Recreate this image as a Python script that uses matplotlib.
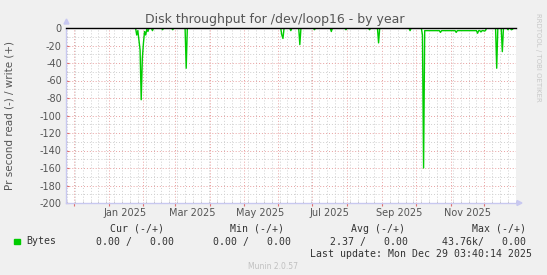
import numpy as np
import pandas as pd
import matplotlib
matplotlib.use("Agg")
import matplotlib.pyplot as plt
import matplotlib.dates as mdates

# -----------------------------
# Data (bytes per second, read = negative)
# -----------------------------
start = pd.Timestamp("2024-11-24 03:40")
end = pd.Timestamp("2025-12-29 03:40")

dip_dates = ["2025-01-26", "2025-01-27", "2025-01-28", "2025-01-29", "2025-01-30",
             "2025-01-31", "2025-02-01", "2025-02-02", "2025-02-03", "2025-02-04",
             "2025-02-05", "2025-02-09", "2025-02-18", "2025-02-27", "2025-03-11",
             "2025-06-04", "2025-06-05", "2025-06-12", "2025-06-20", "2025-07-03",
             "2025-07-18", "2025-07-31", "2025-08-21", "2025-08-29", "2025-09-26",
             "2025-10-07", "2025-10-08", "2025-10-23", "2025-11-06", "2025-11-25",
             "2025-11-28", "2025-12-01", "2025-12-12", "2025-12-17", "2025-12-22",
             "2025-12-25", "2025-12-26"]
dip_values = [-8, -3, -14, -25, -82,
              -35, -17, -4, -8, -1,
              -4, -3, -2, -2, -46,
              -8, -12, -3, -19, -2,
              -4, -2, -2, -17, -3,
              -8, -160, -5, -5, -6,
              -4.5, -3.5, -46, -27, -2,
              -2, -1.5]

plateau_start = "2025-10-09"
plateau_end = "2025-12-02"
plateau_level = -3.0

y_ticks = list(range(-200, 1, 20))
month_labels = ["Jan 2025", "Mar 2025", "May 2025", "Jul 2025", "Sep 2025", "Nov 2025"]
month_label_dates = ["2025-01-16", "2025-03-16", "2025-05-16", "2025-07-16",
                     "2025-09-16", "2025-11-16"]

# daily series, zero where nothing was read
days = pd.date_range("2024-11-24", "2025-12-29", freq="D")
s = pd.Series(0.0, index=days)
s[plateau_start:plateau_end] = plateau_level
s[pd.to_datetime(dip_dates)] = dip_values

# -----------------------------
# Figure
# -----------------------------
W, H = 547, 275
fig = plt.figure(figsize=(W / 100, H / 100), dpi=100, facecolor="#F0F0F0")

def fx(px):
    return px / W

def fy(py):
    return 1 - py / H

ax = fig.add_axes([fx(66), fy(203), 450 / W, 175 / H])
ax.set_facecolor("white")

ax.plot(s.index, s.values, color="#00CC00", lw=1.0, zorder=3)
ax.axhline(0, color="black", lw=1.0, zorder=4, clip_on=False)

ax.set_xlim(start, end)
ax.set_ylim(-200, 0)

# grid
ax.xaxis.set_major_locator(mdates.MonthLocator())
ax.xaxis.set_minor_locator(mdates.WeekdayLocator(byweekday=mdates.MO))
ax.xaxis.set_major_formatter(plt.NullFormatter())
ax.set_yticks(y_ticks)
ax.set_yticks(range(-190, 0, 20), minor=True)
ax.set_yticklabels([str(v) for v in y_ticks])

ax.grid(which="minor", color="#CFCFCF", lw=0.7, linestyle=(0, (1, 2)), zorder=1)
ax.grid(which="major", color="#E8A0A0", lw=0.7, linestyle=(0, (1, 2)), zorder=2)

ax.tick_params(axis="x", which="major", length=2.5, color="#E07070", direction="out")
ax.tick_params(axis="x", which="minor", length=1.5, color="#C0C0C0", direction="in")
ax.tick_params(axis="y", which="major", length=2, color="#E07070", direction="in",
               labelsize=7, labelcolor="#555555", pad=3)
ax.tick_params(axis="y", which="minor", length=1.5, color="#C0C0C0", direction="in")

for side in ["top", "right"]:
    ax.spines[side].set_visible(False)
for side in ["left", "bottom"]:
    ax.spines[side].set_color("#C8C8F0")
    ax.spines[side].set_linewidth(1.0)

# axis arrows
fig.patches.append(matplotlib.patches.Polygon(
    [[fx(64), fy(24)], [fx(69), fy(24)], [fx(66.5), fy(19)]],
    closed=True, color="#C8C8F0", transform=fig.transFigure))
fig.patches.append(matplotlib.patches.Polygon(
    [[fx(517), fy(200.5)], [fx(517), fy(205.5)], [fx(522), fy(203)]],
    closed=True, color="#C8C8F0", transform=fig.transFigure))

for lab, d in zip(month_labels, month_label_dates):
    ax.text(pd.Timestamp(d), -0.057, lab, transform=ax.get_xaxis_transform(),
            ha="center", va="center", fontsize=7, color="#555555")

# titles
fig.text(fx(275), fy(19), "Disk throughput for /dev/loop16 - by year",
         ha="center", va="center", fontsize=9, color="#555555")
fig.text(fx(10), fy(115), "Pr second read (-) / write (+)", rotation=90,
         ha="center", va="center", fontsize=7.5, color="#555555")
fig.text(fx(538), fy(57), "RRDTOOL / TOBI OETIKER", rotation=270,
         ha="center", va="center", fontsize=5, color="#C8C8C8")

# legend block
mono = dict(family="DejaVu Sans Mono", fontsize=7.1, color="#333333", va="center")
fig.text(fx(164), fy(228.6), "Cur (-/+)", ha="right", **mono)
fig.text(fx(284), fy(228.6), "Min (-/+)", ha="right", **mono)
fig.text(fx(405), fy(228.6), "Avg (-/+)", ha="right", **mono)
fig.text(fx(526), fy(228.6), "Max (-/+)", ha="right", **mono)

fig.patches.append(matplotlib.patches.Rectangle(
    (fx(14), fy(244)), 5.5 / W, 5.5 / H, color="#00CC00", transform=fig.transFigure))
fig.text(fx(26), fy(241.5), "Bytes", ha="left", **mono)
fig.text(fx(173.5), fy(241.5), "0.00 /   0.00", ha="right", **mono)
fig.text(fx(291), fy(241.5), "0.00 /   0.00", ha="right", **mono)
fig.text(fx(408), fy(241.5), "2.37 /   0.00", ha="right", **mono)
fig.text(fx(526), fy(241.5), "43.76k/   0.00", ha="right", **mono)
fig.text(fx(532), fy(254), "Last update: Mon Dec 29 03:40:14 2025", ha="right", **mono)

fig.text(fx(273), fy(266.6), "Munin 2.0.57", ha="center", va="center",
         fontsize=5.5, color="#C0C0C0")

fig.savefig("out.png", dpi=100, facecolor=fig.get_facecolor())
